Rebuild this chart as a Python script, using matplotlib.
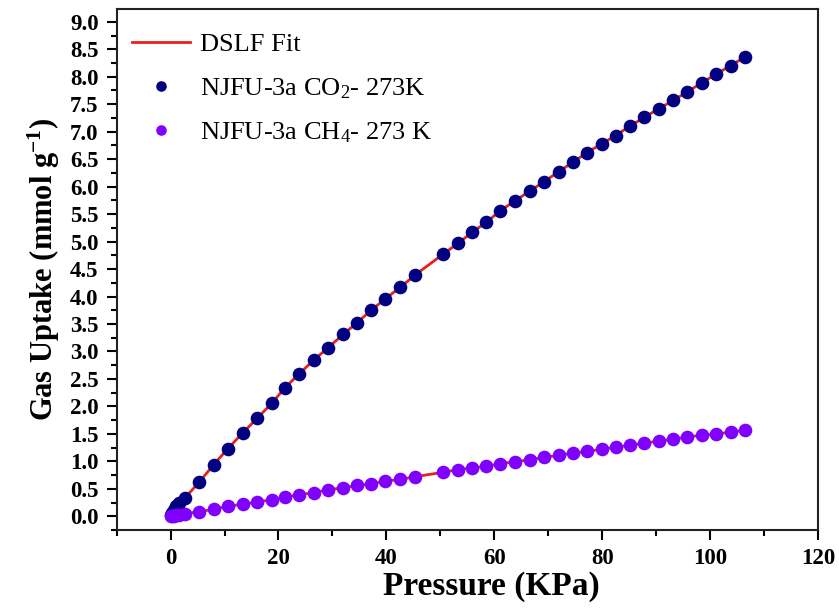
import numpy as np
import matplotlib
matplotlib.use('Agg')
import matplotlib.pyplot as plt
from matplotlib.ticker import MultipleLocator

plt.rcParams['font.family'] = ['Liberation Serif', 'DejaVu Serif']
plt.rcParams['mathtext.fontset'] = 'custom'
plt.rcParams['mathtext.rm'] = 'Liberation Serif'
plt.rcParams['mathtext.it'] = 'Liberation Serif:italic'
plt.rcParams['mathtext.bf'] = 'Liberation Serif:bold'

# pressure points (kPa), same grid for both gases
pressure = [0.1, 0.3, 0.6, 1.0, 1.6, 2.6, 5.3, 8.0, 10.6, 13.4, 16.0, 18.8, 21.2,
            23.8, 26.5, 29.2, 32.0, 34.5, 37.2, 39.8, 42.6, 45.3, 50.5, 53.3,
            55.9, 58.5, 61.1, 63.8, 66.6, 69.2, 71.9, 74.5, 77.2, 79.9, 82.5,
            85.1, 87.8, 90.5, 93.2, 95.8, 98.5, 101.1, 103.8, 106.4]

co2 = [0.02, 0.06, 0.12, 0.18, 0.24, 0.33, 0.62, 0.94, 1.23, 1.52, 1.78, 2.06, 2.34,
       2.59, 2.84, 3.07, 3.31, 3.52, 3.75, 3.96, 4.17, 4.39, 4.77, 4.97,
       5.17, 5.35, 5.56, 5.74, 5.92, 6.09, 6.27, 6.44, 6.62, 6.78, 6.93,
       7.10, 7.26, 7.42, 7.57, 7.73, 7.89, 8.05, 8.20, 8.36]

ch4 = [0.0, 0.005, 0.01, 0.02, 0.03, 0.05, 0.08, 0.13, 0.18, 0.22, 0.26, 0.30, 0.35,
       0.39, 0.43, 0.48, 0.52, 0.56, 0.59, 0.64, 0.67, 0.72, 0.80, 0.85,
       0.88, 0.91, 0.96, 0.99, 1.03, 1.07, 1.11, 1.15, 1.18, 1.22, 1.26,
       1.29, 1.33, 1.37, 1.40, 1.45, 1.47, 1.50, 1.53, 1.57]

fig = plt.figure(figsize=(8.39, 6.12), dpi=100)
ax = fig.add_axes([0.139, 0.134, 0.836, 0.851])

#fit lines (drawn under the markers)
ax.plot(pressure, co2, color='#e8201c', lw=2, zorder=1, label='DSLF Fit')
ax.plot(pressure, ch4, color='#e8201c', lw=2, zorder=1)

ax.plot(pressure, co2, 'o', color='#000080', ms=8.8, mec='#000080', zorder=2,
        label='NJFU-3a CO$_2$- 273K')
ax.plot(pressure, ch4, 'o', color='#7f00ff', ms=8.8, mec='#7f00ff', zorder=2,
        label='NJFU-3a CH$_4$- 273 K')

ax.set_xlim(-10, 120)
ax.set_ylim(-0.25, 9.23)
ax.xaxis.set_major_locator(MultipleLocator(20))
ax.xaxis.set_minor_locator(MultipleLocator(10))
ax.yaxis.set_major_locator(MultipleLocator(0.5))
ax.yaxis.set_minor_locator(MultipleLocator(0.25))
ax.yaxis.set_major_formatter(matplotlib.ticker.FormatStrFormatter('%.1f'))

ax.tick_params(which='both', direction='out', width=1.5, top=False, right=False,
               labelsize=16.5)
ax.tick_params(which='major', length=7, pad=6)
ax.tick_params(which='minor', length=4)
for lab in ax.get_xticklabels() + ax.get_yticklabels():
    lab.set_fontweight('bold')
for s in ax.spines.values():
    s.set_linewidth(1.5)
    s.set_color('#222222')

ax.set_xlabel('Pressure (KPa)', fontsize=24, fontweight='bold')
ax.xaxis.set_label_coords(0.535, -0.078)
ax.set_ylabel('Gas Uptake (mmol g$^{\\mathbf{-1}}$)', fontsize=22, fontweight='bold',
              labelpad=6)

ax.legend(loc='upper left', frameon=False, fontsize=19, handlelength=2.2,
          markerscale=0.75, labelspacing=0.75, borderaxespad=0.3,
          handletextpad=0.4, bbox_to_anchor=(-0.005, 0.99))

fig.savefig('out.png', dpi=100)
